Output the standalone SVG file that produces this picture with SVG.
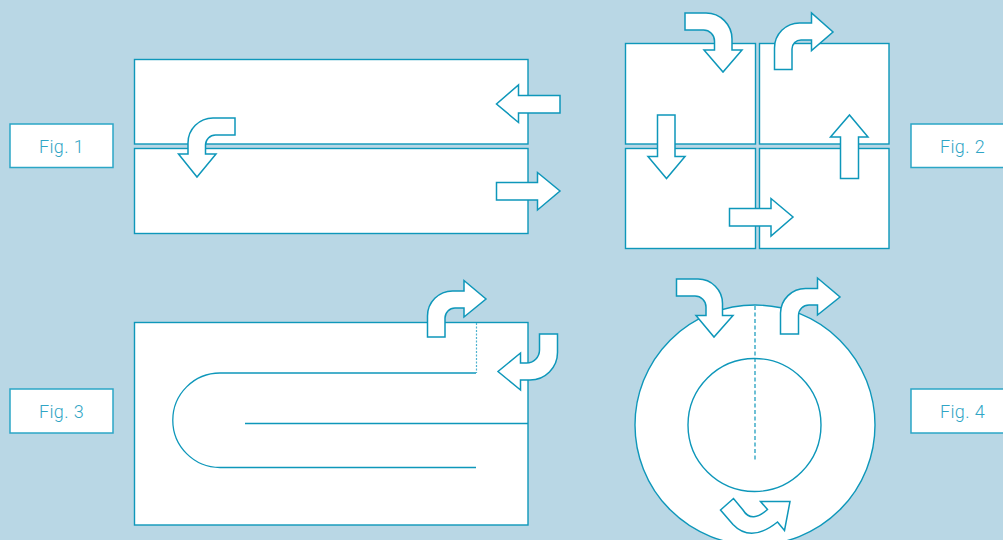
<svg xmlns="http://www.w3.org/2000/svg" width="1003" height="540" viewBox="0 0 1003 540">
<style>
.s{fill:#fff;stroke:#0e97ba;stroke-width:1.4}
.a{fill:#fff;stroke:#0e97ba;stroke-width:1.5;stroke-linejoin:miter}
.l{fill:none;stroke:#0e97ba;stroke-width:1.3}
.d{fill:none;stroke:#0e97ba;stroke-width:1.2;stroke-dasharray:4 2.5}
.b{fill:#fff;stroke:#2ba6c6;stroke-width:1.5}
.t{font-family:"Roboto","Liberation Sans",sans-serif;font-weight:300;font-size:18px;letter-spacing:.4px;fill:#2fa5c5;text-anchor:middle}
</style>
<rect width="1003" height="540" fill="#b9d7e5"/>
<g id="label-fig1"><rect class="b" x="10" y="124" width="103" height="43.5"/><text class="t" x="61.500" y="153">Fig. 1</text></g>
<g id="label-fig2"><rect class="b" x="911" y="124" width="100" height="43.5"/><text class="t" x="962.500" y="153">Fig. 2</text></g>
<g id="label-fig3"><rect class="b" x="10" y="389" width="103" height="44"/><text class="t" x="61.500" y="418">Fig. 3</text></g>
<g id="label-fig4"><rect class="b" x="911" y="389" width="100" height="44"/><text class="t" x="962.500" y="418">Fig. 4</text></g>
<g id="fig1">
<rect class="s" x="134.500" y="59.500" width="393.500" height="84.500"/>
<rect class="s" x="134.500" y="148.500" width="393.500" height="85"/>
</g>
<g id="fig2">
<rect class="s" x="625.500" y="43.500" width="130" height="100.500"/>
<rect class="s" x="759.500" y="43.500" width="129.500" height="100.500"/>
<rect class="s" x="625.500" y="148.500" width="130" height="100"/>
<rect class="s" x="759.500" y="148.500" width="129.500" height="100"/>
</g>
<g id="fig3">
<rect class="s" x="134.500" y="322.500" width="393.500" height="202.500"/>
<path class="l" d="M476,373 H220 A47.200,47.200 0 0 0 220,467.500 H476"/>
<path class="l" d="M245,423.500 H528"/>
<path d="M476.500,323 V373" fill="none" stroke="#4fb2cf" stroke-width="1.200" stroke-dasharray="2 1.500"/>
</g>
<g id="fig4">
<circle class="s" cx="755" cy="425" r="120"/>
<circle class="s" cx="754.500" cy="425" r="66.500"/>
<path class="d" d="M755,306 V460"/>
</g>
<g id="connectors">
<path class="a" d="M235,118 H213 A25,25 0 0 0 188,143 V154 H178.500 L197,177 L216,154 H205.500 V145 A10,10 0 0 1 215.500,135 H235 Z"/>
<path class="a" d="M560,95.500 H518.500 V85 L496.500,104 L518.500,122.500 V113 H560 Z"/>
<path class="a" d="M496.500,182.500 H537.500 V172.500 L560,191 L537.500,210 V200 H496.500 Z"/>
<path class="a" d="M685,13 H706 A26,26 0 0 1 732,39 V50 H742 L723,72 L704,50 H714.500 V41 A11,11 0 0 0 703.500,30 H685 Z"/>
<path class="a" d="M774.500,69.500 V48 A25,25 0 0 1 799.500,23 H811.500 V13 L833,32 L811.500,50.500 V40 H801 A9,9 0 0 0 792,49 V69.500 Z"/>
<path class="a" d="M657.500,115 H675 V156.500 H685 L666.500,178.500 L648,156.500 H657.500 Z"/>
<path class="a" d="M840.500,178.500 H858.500 V137 H868 L849.500,115 L830.500,137 H840.500 Z"/>
<path class="a" d="M729.500,208.500 H771 V198.500 L793,217 L771,236 V226 H729.500 Z"/>
<path class="a" d="M427.500,337 V316 A25,25 0 0 1 452.500,291 H464 V280.500 L486,299 L464,317 V308 H455 A10,10 0 0 0 445,318 V337 Z"/>
<path class="a" d="M539.500,334 V350 A13,13 0 0 1 526.500,363 H520.500 V353 L498,371.500 L520.500,390 V380 H530 A27.500,27.500 0 0 0 557.500,352.500 V334 Z"/>
<path class="a" d="M676.500,279 H698 A24.500,24.500 0 0 1 722.500,303.500 V315.500 H733 L714,337 L696,315.500 H706 V307 A11,11 0 0 0 695,296 H676.500 Z"/>
<path class="a" d="M780.500,334 V313 A25,25 0 0 1 805.500,288.500 H817.500 V278 L840,297 L817.500,315 V305 H809 A10.500,10.500 0 0 0 798.500,315.500 V334 Z"/>
<path class="a" d="M733.500,498.500 L720.500,510 L733,524.500 C745,537 760,536 777.500,522 L784.500,530.500 L790,501.500 L760.500,501.500 L767.500,509.500 C758,518 749,520 743,510 Z"/>
</g>
</svg>
